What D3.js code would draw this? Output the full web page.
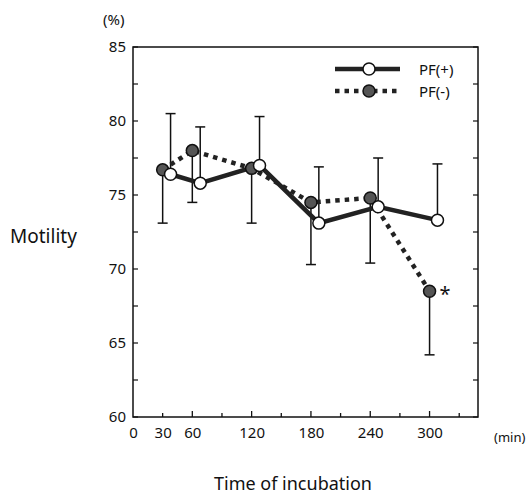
<!DOCTYPE html>
<html>
<head>
<meta charset="utf-8">
<script src="https://d3js.org/d3.v7.min.js"></script>
<style>
  body { margin: 0; background: #fff; }
  svg text { font-family: "Noto Sans", "DejaVu Sans", sans-serif; fill: #111; }
  .axis path, .axis line { stroke: #111; stroke-width: 1.5px; }
</style>
</head>
<body>
<svg width="529" height="497"></svg>
<script>
// data
var times = [30, 60, 120, 180, 240, 300];
var pfPlus = [76.4, 75.8, 77.0, 73.1, 74.2, 73.3];
var pfPlusErr = [4.1, 3.8, 3.3, 3.8, 3.3, 3.8];     // drawn upward
var pfMinus = [76.7, 78.0, 76.8, 74.5, 74.8, 68.5];
var pfMinusErr = [3.6, 3.5, 3.7, 4.2, 4.4, 4.3];    // drawn downward
var xTicks = [0, 30, 60, 120, 180, 240, 300];
var yTicks = [60, 65, 70, 75, 80, 85];

var svg = d3.select("svg");
var mLeft = 133, mRight = 478, mTop = 47, mBottom = 417;

var x = d3.scaleLinear().domain([0, 349]).range([mLeft, mRight]);
var y = d3.scaleLinear().domain([60, 85]).range([mBottom, mTop]);

var shift = 8; // PF(+) plotted slightly right of its time point

// frame
svg.append("rect")
    .attr("x", mLeft).attr("y", mTop)
    .attr("width", mRight - mLeft).attr("height", mBottom - mTop)
    .attr("fill", "none").attr("stroke", "#111").attr("stroke-width", 1.5);

// y axis
var yAxis = svg.append("g").attr("class", "axis")
    .attr("transform", "translate(" + mLeft + ",0)")
    .call(d3.axisLeft(y).tickValues(yTicks).tickSize(0).tickPadding(7));
yAxis.select(".domain").remove();
yAxis.selectAll("text").style("font-size", "15px");

// inner minor ticks on left and right
var yMinor = d3.range(60, 85.1, 2.5);
svg.append("g").selectAll("line").data(yMinor).enter().append("line")
    .attr("x1", mLeft).attr("x2", mLeft + 5)
    .attr("y1", function(d) { return y(d); }).attr("y2", function(d) { return y(d); })
    .attr("stroke", "#111").attr("stroke-width", 1.2);
svg.append("g").selectAll("line").data(yMinor).enter().append("line")
    .attr("x1", mRight).attr("x2", mRight - 5)
    .attr("y1", function(d) { return y(d); }).attr("y2", function(d) { return y(d); })
    .attr("stroke", "#111").attr("stroke-width", 1.2);

// x axis
var xAxis = svg.append("g").attr("class", "axis")
    .attr("transform", "translate(0," + mBottom + ")")
    .call(d3.axisBottom(x).tickValues(xTicks).tickSize(0).tickPadding(10));
xAxis.select(".domain").remove();
xAxis.selectAll("text").style("font-size", "15px");

var xMinor = d3.range(30, 331, 30);
svg.append("g").selectAll("line").data(xMinor).enter().append("line")
    .attr("x1", function(d) { return x(d); }).attr("x2", function(d) { return x(d); })
    .attr("y1", mBottom).attr("y2", function(d) { return d % 60 == 0 ? mBottom - 6 : mBottom - 4; })
    .attr("stroke", "#111").attr("stroke-width", 1.3);

// error bars
function errorBars(vals, errs, dx, dir) {
    var g = svg.append("g").attr("stroke", "#111").attr("stroke-width", 1.5);
    times.forEach(function(t, i) {
        var cx = x(t + dx), y0 = y(vals[i]), y1 = y(vals[i] + dir * errs[i]);
        g.append("line").attr("x1", cx).attr("x2", cx).attr("y1", y0).attr("y2", y1);
        g.append("line").attr("x1", cx - 5).attr("x2", cx + 5).attr("y1", y1).attr("y2", y1);
    });
}
errorBars(pfMinus, pfMinusErr, 0, -1);
errorBars(pfPlus, pfPlusErr, shift, 1);

var lineMinus = d3.line()
    .x(function(d, i) { return x(times[i]); })
    .y(function(d) { return y(d); });
var linePlus = d3.line()
    .x(function(d, i) { return x(times[i] + shift); })
    .y(function(d) { return y(d); });

svg.append("path").datum(pfMinus)
    .attr("d", lineMinus)
    .attr("fill", "none").attr("stroke", "#222")
    .attr("stroke-width", 4.5).attr("stroke-dasharray", "4.5,5");

svg.append("path").datum(pfPlus)
    .attr("d", linePlus)
    .attr("fill", "none").attr("stroke", "#222").attr("stroke-width", 4.5);

svg.append("g").selectAll("circle").data(pfMinus).enter().append("circle")
    .attr("cx", function(d, i) { return x(times[i]); })
    .attr("cy", function(d) { return y(d); })
    .attr("r", 6).attr("fill", "#555").attr("stroke", "#111").attr("stroke-width", 1.5);

svg.append("g").selectAll("circle").data(pfPlus).enter().append("circle")
    .attr("cx", function(d, i) { return x(times[i] + shift); })
    .attr("cy", function(d) { return y(d); })
    .attr("r", 6).attr("fill", "#fff").attr("stroke", "#111").attr("stroke-width", 1.5);

// significance star
svg.append("text")
    .attr("x", x(300) + 10).attr("y", y(pfMinus[5]) + 10)
    .style("font-size", "20px").text("*");

// legend
var lg = svg.append("g");
lg.append("line").attr("x1", 335).attr("x2", 400).attr("y1", 69).attr("y2", 69)
    .attr("stroke", "#222").attr("stroke-width", 4.5);
lg.append("circle").attr("cx", 369).attr("cy", 69).attr("r", 6)
    .attr("fill", "#fff").attr("stroke", "#111").attr("stroke-width", 1.5);
lg.append("text").attr("x", 419).attr("y", 75).style("font-size", "15px").text("PF(+)");
lg.append("line").attr("x1", 335).attr("x2", 397).attr("y1", 91).attr("y2", 91)
    .attr("stroke", "#222").attr("stroke-width", 4.5).attr("stroke-dasharray", "4.5,5");
lg.append("circle").attr("cx", 369).attr("cy", 91).attr("r", 6)
    .attr("fill", "#555").attr("stroke", "#111").attr("stroke-width", 1.5);
lg.append("text").attr("x", 419).attr("y", 97).style("font-size", "15px").text("PF(-)");

// axis labels
svg.append("text").attr("x", 103).attr("y", 25).style("font-size", "15px").text("(%)");
svg.append("text").attr("x", 10).attr("y", 243).style("font-size", "19px").text("Motility");
svg.append("text").attr("x", 494).attr("y", 442).style("font-size", "13px").text("(min)");
svg.append("text").attr("x", 293).attr("y", 490).attr("text-anchor", "middle")
    .style("font-size", "18px").text("Time of incubation");
</script>
</body>
</html>
